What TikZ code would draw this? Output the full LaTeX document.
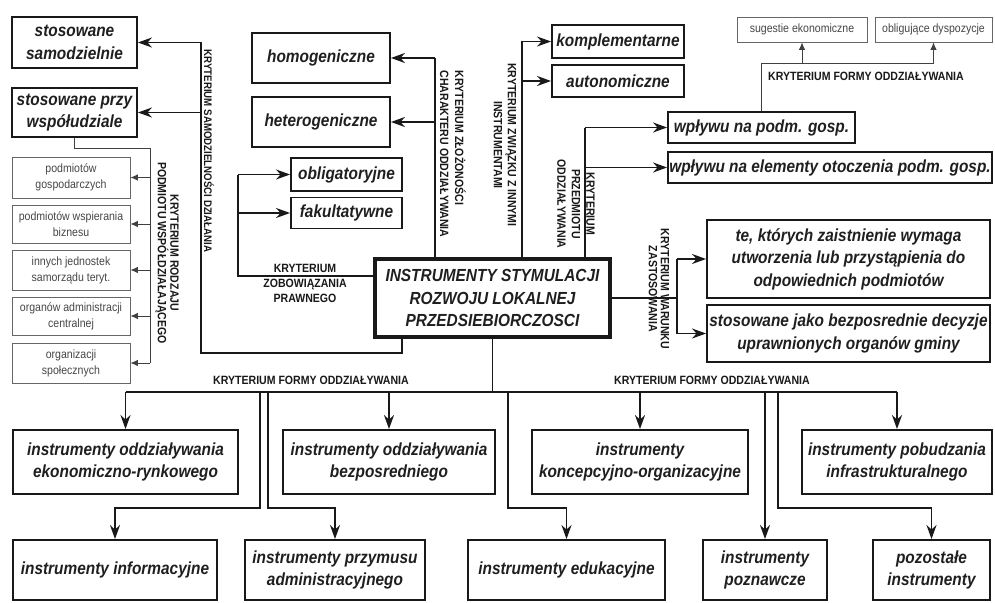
\documentclass[tikz,border=0pt]{standalone}
\usepackage{fontspec}
\setmainfont{Liberation Sans}[FakeStretch=0.88]
\usetikzlibrary{arrows.meta}
\tikzset{
  bx/.style={draw=black!90, line width=1.9pt, inner sep=1pt, align=center,
    font=\fontsize{17.5}{22.5}\selectfont\bfseries\itshape, text=black!88},
  mainbx/.style={bx, line width=3.3pt},
  sbx/.style={draw=black!60, line width=0.8pt, align=center, inner sep=1pt,
    font=\fontsize{12}{16}\selectfont, text=black!72},
  lbl/.style={font=\fontsize{12}{13.5}\selectfont\bfseries, text=black!90, align=center, inner sep=0pt},
  ln/.style={draw=black!90, line width=1.6pt},
  arr/.style={ln, -{Stealth[length=14pt,width=10pt,inset=4.5pt]}},
  tln/.style={draw=black!75, line width=0.9pt},
  sarr/.style={tln, -{Latex[length=7.5pt,width=6.5pt]}},
}
\begin{document}
\begin{tikzpicture}[x=1pt,y=-1pt]
\useasboundingbox (0,0) rectangle (995,602);
\fill[white] (0,0) rectangle (995,602);

% left boxes
\node[bx, minimum width=125, minimum height=51] (samo) at (74.5,42.5) {stosowane\\samodzielnie};
\node[bx, minimum width=125, minimum height=49] (wspol) at (74.5,112.5) {stosowane przy\\współudziale};
\node[sbx, minimum width=118, minimum height=41] (s1) at (71,177.5) {podmiotów\\gospodarczych};
\node[sbx, minimum width=118, minimum height=38] (s2) at (71,224) {podmiotów wspierania\\biznesu};
\node[sbx, minimum width=118, minimum height=40] (s3) at (71,270) {innych jednostek\\samorządu teryt.};
\node[sbx, minimum width=118, minimum height=38] (s4) at (71,316) {organów administracji\\centralnej};
\node[sbx, minimum width=118, minimum height=40] (s5) at (71,363) {organizacji\\społecznych};

% middle boxes
\node[bx, minimum width=138, minimum height=50] (homo) at (321,58) {homogeniczne};
\node[bx, minimum width=138, minimum height=50] (hetero) at (321,122) {heterogeniczne};
\node[bx, minimum width=111, minimum height=33] (oblig) at (346.5,174.5) {obligatoryjne};
\node[bx, minimum width=111, minimum height=31] (fakult) at (346.5,213) {fakultatywne};
\node[mainbx, minimum width=235, minimum height=78] (main) at (492.5,298) {INSTRUMENTY STYMULACJI\\ROZWOJU LOKALNEJ\\PRZEDSIEBIORCZOSCI};

% right boxes
\node[bx, minimum width=132, minimum height=33] (kompl) at (618,41.5) {komplementarne};
\node[bx, minimum width=132, minimum height=32] (auton) at (618,81) {autonomiczne};
\node[bx, minimum width=187, minimum height=31] (wpl1) at (761.5,127.5) {wpływu na podm. gosp.};
\node[bx, minimum width=324, minimum height=31] (wpl2) at (830,167.5) {wpływu na elementy otoczenia podm. gosp.};
\node[sbx, minimum width=130, minimum height=25] (sug) at (802,29.5) {sugestie ekonomiczne};
\node[sbx, minimum width=117, minimum height=25] (obl) at (933.5,29.5) {obligujące dyspozycje};
\node[bx, minimum width=283, minimum height=78] (te) at (848.5,259) {te, których zaistnienie wymaga\\utworzenia lub przystąpienia do\\odpowiednich podmiotów};
\node[bx, minimum width=283, minimum height=57] (stos) at (848.5,333.5) {stosowane jako bezposrednie decyzje\\uprawnionych organów gminy};

% bottom boxes
\node[bx, minimum width=225, minimum height=64] (ekon) at (125.5,462) {instrumenty oddziaływania\\ekonomiczno-rynkowego};
\node[bx, minimum width=212, minimum height=64] (bezp) at (389,462) {instrumenty oddziaływania\\bezposredniego};
\node[bx, minimum width=216, minimum height=64] (konc) at (640,462) {instrumenty\\koncepcyjno-organizacyjne};
\node[bx, minimum width=190, minimum height=64] (pobud) at (897,462) {instrumenty pobudzania\\infrastrukturalnego};
\node[bx, minimum width=204, minimum height=60] (info) at (115,570) {instrumenty informacyjne};
\node[bx, minimum width=180, minimum height=60] (przym) at (335,570) {instrumenty przymusu\\administracyjnego};
\node[bx, minimum width=197, minimum height=60] (eduk) at (566.5,570) {instrumenty edukacyjne};
\node[bx, minimum width=124, minimum height=60] (pozn) at (765,570) {instrumenty\\poznawcze};
\node[bx, minimum width=117, minimum height=60] (pozost) at (931.5,570) {pozostałe\\instrumenty};

% labels
\node[lbl, rotate=-90, font=\fontsize{11}{13}\selectfont\bfseries] (l1) at (209,151) {KRYTERIUM SAMODZIELNOŚCI DZIAŁANIA};
\node[lbl, rotate=-90, font=\fontsize{12}{12.5}\selectfont\bfseries] (l2) at (167,253) {KRYTERIUM RODZAJU\\PODMIOTU WSPÓŁDZIAŁAJĄCEGO};
\node[lbl, rotate=-90, align=left, font=\fontsize{12}{15}\selectfont\bfseries] (l3) at (453,154) {KRYTERIUM ZŁOŻONOŚCI\\CHARAKTERU ODDZIAŁYWANIA};
\node[lbl, rotate=-90, font=\fontsize{12}{14}\selectfont\bfseries] (l4) at (505,145) {KRYTERIUM ZWIĄZKU Z INNYMI\\INSTRUMENTAMI};
\node[lbl, rotate=-90, font=\fontsize{12}{14.5}\selectfont\bfseries] (l5) at (576,204) {KRYTERIUM\\PRZEDMIOTU\\ODDZIAŁYWANIA};
\node[lbl, rotate=-90, font=\fontsize{12}{12}\selectfont\bfseries] (l6) at (659,289) {KRYTERIUM WARUNKU\\ZASTOSOWANIA};
\node[lbl, font=\fontsize{12}{15}\selectfont\bfseries] (l7) at (305,283) {KRYTERIUM\\ZOBOWIĄZANIA\\PRAWNEGO};
\node[lbl, anchor=west] (l8) at (768,76) {KRYTERIUM FORMY ODDZIAŁYWANIA};
\node[lbl] (l9) at (311,380) {KRYTERIUM FORMY ODDZIAŁYWANIA};
\node[lbl] (l10) at (712,380) {KRYTERIUM FORMY ODDZIAŁYWANIA};

% A: samodzielnosc
\coordinate (a1) at (201,353);
\draw[ln] ([xshift=-90.5pt]main.south) |- (a1) -- (a1 |- samo.east);
\draw[arr] (samo.east -| a1) -- (samo.east);
\draw[arr] (wspol.east -| a1) -- (wspol.east);

% B: podmioty
\coordinate (b1) at (150,148);
\draw[tln] (wspol.south) |- (b1) -- (b1 |- s5.east);
\foreach \n in {s1,s2,s3,s4,s5} \draw[sarr] (\n.east -| b1) -- (\n.east);

% C: zlozonosc
\coordinate (c1) at (435,0);
\draw[ln] (c1 |- main.north) -- (c1 |- homo.east);
\draw[arr] (homo.east -| c1) -- (homo.east);
\draw[arr] (hetero.east -| c1) -- (hetero.east);

% D: zobowiazanie
\coordinate (d1) at (238,0);
\draw[ln] ([yshift=22pt]main.west) -| (d1 |- oblig.west);
\draw[arr] (oblig.west -| d1) -- (oblig.west);
\draw[arr] (fakult.west -| d1) -- (fakult.west);

% E: zwiazek
\coordinate (e1) at (522,0);
\draw[ln] (e1 |- main.north) -- (e1 |- kompl.west);
\draw[arr] (kompl.west -| e1) -- (kompl.west);
\draw[arr] (auton.west -| e1) -- (auton.west);

% F: przedmiot
\coordinate (f1) at (585,0);
\draw[ln] (f1 |- main.north) -- (f1 |- wpl1.west);
\draw[arr] (wpl1.west -| f1) -- (wpl1.west);
\draw[arr] (wpl2.west -| f1) -- (wpl2.west);

% G: forma (top right)
\coordinate (g1) at (0,63);
\draw[tln] (wpl1.north) -- (wpl1.north |- g1) -- (obl.south |- g1);
\draw[sarr] (sug.south |- g1) -- (sug.south);
\draw[sarr] (obl.south |- g1) -- (obl.south);

% H: warunek
\coordinate (h1) at (677,0);
\draw[ln] (main.east) -- (main.east -| h1);
\draw[ln] (h1 |- te.west) -- (h1 |- stos.west);
\draw[arr] (te.west -| h1) -- (te.west);
\draw[arr] (stos.west -| h1) -- (stos.west);

% I: bottom
\coordinate (bus) at (0,392);
\coordinate (r2) at (0,508);
\draw[ln] (main.south) -- (main.south |- bus);
\draw[ln] (ekon.north |- bus) -- (pobud.north |- bus);
\foreach \n in {ekon,bezp,konc,pobud} \draw[arr] (\n.north |- bus) -- (\n.north);
\coordinate (i1) at (260,392);
\coordinate (i2) at (268,392);
\coordinate (i3) at (508,392);
\coordinate (i5) at (778,392);
\draw[arr] (i1) |- (r2 -| info.north) -- (info.north);
\draw[arr] (i2) |- (r2 -| przym.north) -- (przym.north);
\draw[arr] (i3) |- (r2 -| eduk.north) -- (eduk.north);
\draw[arr] (pozn.north |- bus) -- (pozn.north);
\draw[arr] (i5) |- (r2 -| pozost.north) -- (pozost.north);
\end{tikzpicture}
\end{document}
